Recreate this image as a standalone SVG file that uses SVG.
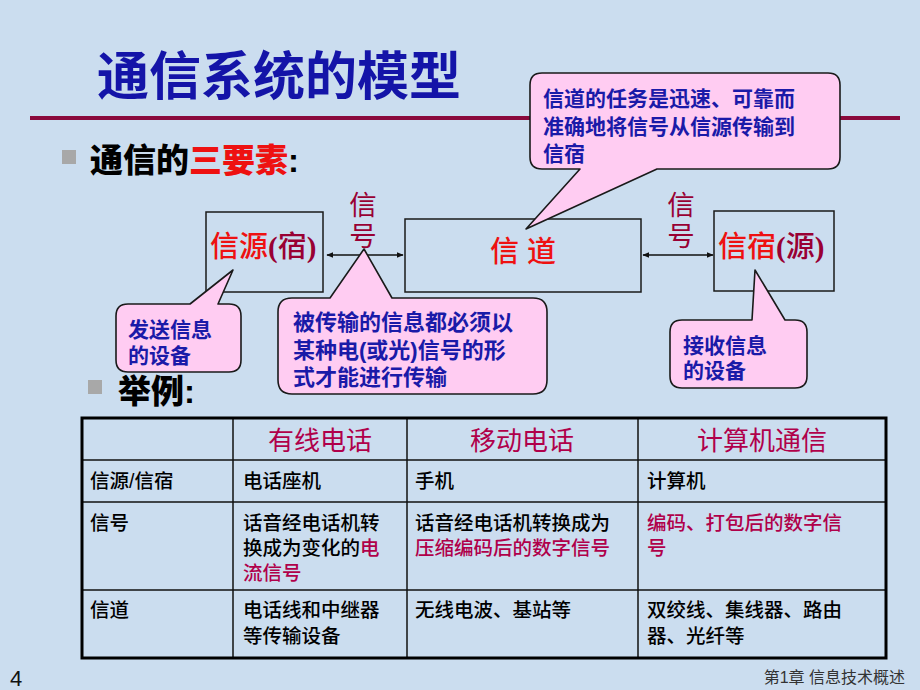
<svg xmlns="http://www.w3.org/2000/svg" width="920" height="690" viewBox="0 0 920 690">
<defs>
<style>
.cjk{font-family:"Liberation Sans","Noto Sans CJK SC",sans-serif}
.title{font-size:52px;font-weight:700;fill:#1414a8}
.head{font-size:33px;font-weight:900;fill:#000}
.red{fill:#ee1111}
.mar{fill:#990033}
.box{fill:none;stroke:#1a1a1a;stroke-width:1.5}
.boxtxt{font-size:29px;font-weight:500}
.paren{font-family:"Liberation Serif",serif;font-weight:700}
.sig{font-size:27.5px;fill:#990033;text-anchor:middle}
.callout{fill:#ffccf2;stroke:#1a1a1a;stroke-width:1.6;stroke-linejoin:round}
.ctxt{font-size:21px;font-weight:700;fill:#1a1aa8}
.conn{stroke:#111;stroke-width:1.5;fill:none}
.tb{font-size:19.5px;font-weight:500;fill:#000}
.th{font-size:26px;fill:#b0004a;text-anchor:middle}
.tm{fill:#b0004a}
.grid{stroke:#111;stroke-width:1.5}
</style>
<marker id="ah" viewBox="0 0 10 10" refX="9" refY="5" markerWidth="7" markerHeight="7" orient="auto-start-reverse" markerUnits="userSpaceOnUse">
<path d="M0,1 L10,5 L0,9 Z" fill="#111"/>
</marker>
</defs>
<rect x="0" y="0" width="920" height="690" fill="#cbddef"/>

<g id="title">
<text class="cjk title" x="97" y="95">通信系统的模型</text>
<rect x="30" y="116" width="870" height="4" fill="#8a0a3c"/>
</g>

<g id="heading1">
<rect x="62" y="150" width="14" height="14" fill="#a8a8a8"/>
<text class="cjk head" x="90" y="172">通信的<tspan class="red">三要素</tspan>:</text>
</g>

<g id="heading2">
<rect x="88" y="380" width="14" height="14" fill="#a8a8a8"/>
<text class="cjk head" x="118" y="403">举例:</text>
</g>

<g id="source">
<rect class="box" x="206" y="212" width="117" height="80"/>
<text class="cjk boxtxt" x="210" y="257"><tspan class="red">信源</tspan><tspan class="mar paren">(</tspan><tspan class="mar">宿</tspan><tspan class="mar paren">)</tspan></text>
</g>

<g id="channel">
<rect class="box" x="405" y="219" width="236" height="73"/>
<text class="cjk boxtxt red" x="523" y="262" text-anchor="middle">信 道</text>
</g>

<g id="sink">
<rect class="box" x="714" y="211" width="120" height="80"/>
<text class="cjk boxtxt" x="718" y="257"><tspan class="red">信宿</tspan><tspan class="mar paren">(</tspan><tspan class="mar">源</tspan><tspan class="mar paren">)</tspan></text>
</g>

<g id="connectors">
<line class="conn" x1="327" y1="255" x2="403" y2="255" marker-start="url(#ah)" marker-end="url(#ah)"/>
<line class="conn" x1="643" y1="255" x2="713" y2="255" marker-start="url(#ah)" marker-end="url(#ah)"/>
<text class="cjk sig"><tspan x="363" y="215">信</tspan><tspan x="363" y="246">号</tspan></text>
<text class="cjk sig"><tspan x="681" y="215">信</tspan><tspan x="681" y="246">号</tspan></text>
</g>

<g id="callout-channel">
<path class="callout" d="M542,73 H828 Q840,73 840,85 V157 Q840,169 828,169 H657 L526,229 L580,169 H542 Q530,169 530,157 V85 Q530,73 542,73 Z"/>
<text class="cjk ctxt"><tspan x="543" y="106">信道的任务是迅速、可靠而</tspan><tspan x="543" y="134">准确地将信号从信源传输到</tspan><tspan x="543" y="161">信宿</tspan></text>
</g>

<g id="callout-source">
<path class="callout" d="M128,304 H190 L233,270 L218,304 H229 Q241,304 241,316 V360 Q241,372 229,372 H128 Q116,372 116,360 V316 Q116,304 128,304 Z"/>
<text class="cjk ctxt"><tspan x="128" y="337">发送信息</tspan><tspan x="128" y="363">的设备</tspan></text>
</g>

<g id="callout-signal">
<path class="callout" d="M292,298 H330 L364,249 L392,298 H533 Q547,298 547,312 V380 Q547,394 533,394 H292 Q278,394 278,380 V312 Q278,298 292,298 Z"/>
<text class="cjk ctxt" style="font-size:22px"><tspan x="293" y="330">被传输的信息都必须以</tspan><tspan x="293" y="358">某种电(或光)信号的形</tspan><tspan x="293" y="385">式才能进行传输</tspan></text>
</g>

<g id="callout-sink">
<path class="callout" d="M682,320 H752 L755,270 L785,320 H795 Q807,320 807,332 V376 Q807,388 795,388 H682 Q670,388 670,376 V332 Q670,320 682,320 Z"/>
<text class="cjk ctxt"><tspan x="683" y="353">接收信息</tspan><tspan x="683" y="378">的设备</tspan></text>
</g>

<g id="table">
<line class="grid" x1="82" y1="460" x2="886" y2="460"/>
<line class="grid" x1="82" y1="502" x2="886" y2="502"/>
<line class="grid" x1="82" y1="590" x2="886" y2="590"/>
<line class="grid" x1="233" y1="418" x2="233" y2="658"/>
<line class="grid" x1="407" y1="418" x2="407" y2="658"/>
<line class="grid" x1="638" y1="418" x2="638" y2="658"/>
<rect x="82" y="418" width="804" height="240" fill="none" stroke="#000" stroke-width="3"/>
<text class="cjk th" x="320" y="450">有线电话</text>
<text class="cjk th" x="522" y="450">移动电话</text>
<text class="cjk th" x="762" y="450">计算机通信</text>
<text class="cjk tb" x="90" y="488">信源/信宿</text>
<text class="cjk tb" x="243" y="488">电话座机</text>
<text class="cjk tb" x="415" y="488">手机</text>
<text class="cjk tb" x="647" y="488">计算机</text>
<text class="cjk tb" x="90" y="530">信号</text>
<text class="cjk tb"><tspan x="243" y="530">话音经电话机转</tspan><tspan x="243" y="555">换成为变化的<tspan class="tm">电</tspan></tspan><tspan class="tm" x="243" y="580">流信号</tspan></text>
<text class="cjk tb"><tspan x="415" y="530">话音经电话机转换成为</tspan><tspan class="tm" x="415" y="555">压缩编码后的数字信号</tspan></text>
<text class="cjk tb tm"><tspan x="647" y="530">编码、打包后的数字信</tspan><tspan x="647" y="555">号</tspan></text>
<text class="cjk tb" x="90" y="617">信道</text>
<text class="cjk tb"><tspan x="243" y="617">电话线和中继器</tspan><tspan x="243" y="643">等传输设备</tspan></text>
<text class="cjk tb" x="415" y="617">无线电波、基站等</text>
<text class="cjk tb"><tspan x="647" y="617">双绞线、集线器、路由</tspan><tspan x="647" y="643">器、光纤等</tspan></text>
</g>

<g id="footer">
<text x="10" y="686" font-family="Liberation Sans, sans-serif" font-size="22" fill="#111">4</text>
<text class="cjk" x="905" y="683" font-size="16" fill="#333" text-anchor="end">第1章 信息技术概述</text>
</g>
</svg>
